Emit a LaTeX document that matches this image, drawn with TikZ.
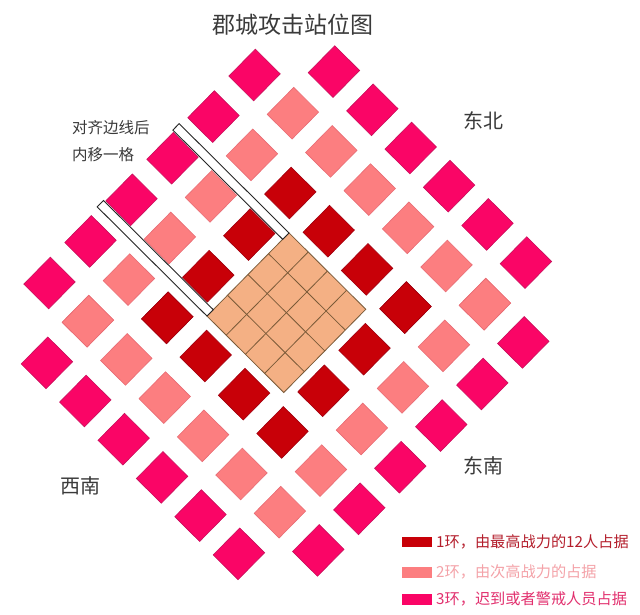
\documentclass[tikz,border=0pt]{standalone}
\usepackage{fontspec}
\setmainfont{Noto Sans CJK SC}
\definecolor{ringA}{HTML}{C80008}
\definecolor{ringAd}{HTML}{A00010}
\definecolor{ringB}{HTML}{FC7E80}
\definecolor{ringBd}{HTML}{E86C74}
\definecolor{ringC}{HTML}{FA0566}
\definecolor{ringCd}{HTML}{C8105C}
\definecolor{blockfill}{HTML}{F4B084}
\definecolor{gridc}{HTML}{7A5A38}
\definecolor{txt}{HTML}{3A3A3A}
\definecolor{legA}{HTML}{B41E2C}
\definecolor{legB}{HTML}{F4A2A8}
\definecolor{legC}{HTML}{E2306E}
\tikzset{
  lbl/.style={inner sep=0pt, text=txt},
  legtxt/.style={inner sep=0pt, anchor=west, font=\fontsize{15.2}{16}\selectfont},
  barbox/.style={fill=white, draw=black!85, line width=0.9pt, line join=miter},
  gridline/.style={gridc, line width=0.8pt},
}
\def\hh{0.648}
\newcommand\gem[4]{% m, n, fill, draw
  \filldraw[fill=#3, draw=#4, line width=0.6pt]
    ({#1},{#2-\hh}) -- ({#1+\hh},{#2}) -- ({#1},{#2+\hh}) -- ({#1-\hh},{#2}) -- cycle;}
\begin{document}
\begin{tikzpicture}[x=1pt,y=-1pt]
\useasboundingbox (0,0) rectangle (640,615);
\fill[white] (0,0) rectangle (640,615);
\begin{scope}[shift={(286.4pt,-312.7pt)}, x={(39.7pt,1.7pt)}, y={(-1.3pt,-39.9pt)}]
  % rings 1 and 2
  \foreach \r/\fc/\dc in {3/ringA/ringAd,5/ringB/ringBd}{
    \foreach \m in {-\r,...,\r}{
      \pgfmathsetmacro\nn{\r-abs(\m)}
      \foreach \sg in {1,-1}{ \gem{\m}{\sg*\nn}{\fc}{\dc} }
    }
  }
  % ring 3 (no corner diamonds)
  \foreach \m in {-6,-5,-4,-3,-2,-1,1,2,3,4,5,6}{
    \pgfmathsetmacro\nn{7-abs(\m)}
    \foreach \sg in {1,-1}{ \gem{\m}{\sg*\nn}{ringC}{ringCd} }
  }
  % central block
  \coordinate (T) at (0,-2);
  \coordinate (R) at (2,0);
  \coordinate (B) at (0,2);
  \coordinate (L) at (-2,0);
  \fill[blockfill] (T) -- (R) -- (B) -- (L) -- cycle;
  \foreach \f in {0.5,1,1.5}{
    \draw[gridline] ({-\f},{-2+\f}) -- ({2-\f},{\f});
    \draw[gridline] ({\f},{-2+\f}) -- ({-2+\f},{\f});
  }
  \draw[gridline] (T) -- (R) -- (B) -- (L) -- cycle;
  % marker bars
  \draw[barbox] (T) -- (-0.154,-1.846) -- (-3.014,-4.706) -- (-2.86,-4.86) -- cycle;
  \draw[barbox] (L) -- (-1.846,-0.154) -- (-4.706,-3.014) -- (-4.86,-2.86) -- cycle;
\end{scope}
% texts
\node[lbl, font=\fontsize{23}{24}\selectfont] (title) at (293,25) {郡城攻击站位图};
\node[lbl, font=\fontsize{20}{21}\selectfont] (ne) at (483,121) {东北};
\node[lbl, font=\fontsize{20}{21}\selectfont] (se) at (483,466) {东南};
\node[lbl, font=\fontsize{20}{21}\selectfont] (sw) at (80,486) {西南};
\node[lbl, anchor=west, font=\fontsize{15.5}{16}\selectfont] (note1) at (72,128) {对齐边线后};
\node[lbl, anchor=west, font=\fontsize{15.5}{16}\selectfont] (note2) at (72,155) {内移一格};
% legend
\fill[ringA] (402,536.5) rectangle (432,547);
\fill[ringB] (402,567) rectangle (432,577.5);
\fill[ringC] (402,594) rectangle (432,604.5);
\node[legtxt, text=legA] (leg1) at (436,541.5) {1环，由最高战力的12人占据};
\node[legtxt, text=legB] (leg2) at (436,572) {2环，由次高战力的占据};
\node[legtxt, text=legC] (leg3) at (436,599) {3环，迟到或者警戒人员占据};
\end{tikzpicture}
\end{document}
